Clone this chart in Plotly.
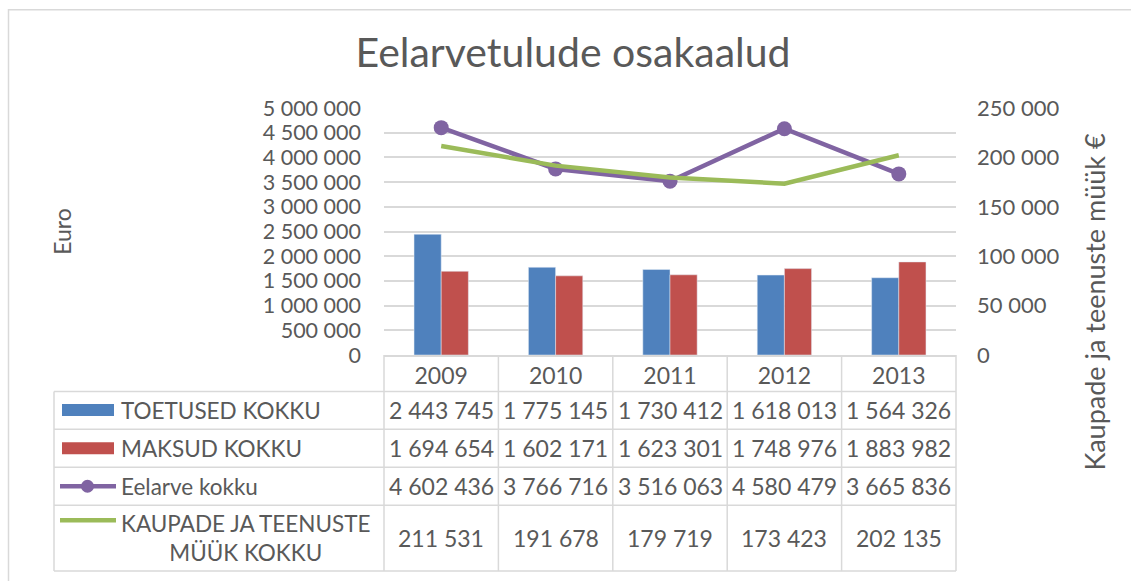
import plotly.graph_objects as go

years = ["2009", "2010", "2011", "2012", "2013"]
toetused = [2443745, 1775145, 1730412, 1618013, 1564326]
maksud = [1694654, 1602171, 1623301, 1748976, 1883982]
eelarve = [4602436, 3766716, 3516063, 4580479, 3665836]
kaupade = [211531, 191678, 179719, 173423, 202135]

series_names = ["TOETUSED KOKKU", "MAKSUD KOKKU", "Eelarve kokku", "KAUPADE JA TEENUSTE<br>MÜÜK KOKKU"]

W, H = 1131, 581
L, R, T, B = 384, 956, 108, 355.5
FONT = "Lato"
GREY = "#595959"
LINE = "#d9d9d9"
BLUE, RED, PURPLE, GREEN = "#4f81bd", "#c0504d", "#8064a2", "#9bbb59"


def px(x):
    return (x - L) / (R - L)


def py(y):
    return (B - y) / (B - T)


def fmt(v):
    return f"{v:,}".replace(",", " ")


fig = go.Figure()
fig.add_trace(go.Bar(x=years, y=toetused, name=series_names[0], marker_color=BLUE))
fig.add_trace(go.Bar(x=years, y=maksud, name=series_names[1], marker_color=RED))
fig.add_trace(go.Scatter(x=years, y=eelarve, name=series_names[2], mode="lines+markers",
                         line=dict(color=PURPLE, width=4.5), marker=dict(size=15, color=PURPLE)))
fig.add_trace(go.Scatter(x=years, y=kaupade, name=series_names[3], mode="lines", yaxis="y2",
                         line=dict(color=GREEN, width=4.5)))

shapes = []
# outer chart border
shapes.append(dict(type="rect", xref="paper", yref="paper", x0=px(8.5), x1=px(1140), y0=py(590), y1=py(9.5),
                   line=dict(color=LINE, width=1.5), layer="below"))
# table horizontal lines
for yy in [392, 430, 468, 506, 572]:
    shapes.append(dict(type="line", xref="paper", yref="paper", x0=px(54), x1=1, y0=py(yy), y1=py(yy),
                       line=dict(color=LINE, width=1.5)))
# table vertical lines
shapes.append(dict(type="line", xref="paper", yref="paper", x0=px(54), x1=px(54), y0=py(392), y1=py(572),
                   line=dict(color=LINE, width=1.5)))
for i in range(len(years) + 1):
    xx = i / len(years)
    shapes.append(dict(type="line", xref="paper", yref="paper", x0=xx, x1=xx, y0=0, y1=py(572),
                       line=dict(color=LINE, width=1.5)))

# legend keys
row_y = [411, 449, 487, 539]
shapes.append(dict(type="rect", xref="paper", yref="paper", x0=px(62), x1=px(114), y0=py(416.5), y1=py(404.5),
                   fillcolor=BLUE, line=dict(width=0)))
shapes.append(dict(type="rect", xref="paper", yref="paper", x0=px(62), x1=px(114), y0=py(455), y1=py(443),
                   fillcolor=RED, line=dict(width=0)))
shapes.append(dict(type="line", xref="paper", yref="paper", x0=px(60), x1=px(116), y0=py(487), y1=py(487),
                   line=dict(color=PURPLE, width=4.5)))
shapes.append(dict(type="circle", xref="paper", yref="paper", x0=px(81), x1=px(94), y0=py(493.5), y1=py(480.5),
                   fillcolor=PURPLE, line=dict(width=0)))
shapes.append(dict(type="line", xref="paper", yref="paper", x0=px(60), x1=px(116), y0=py(521), y1=py(521),
                   line=dict(color=GREEN, width=4.5)))

ann = []
series_vals = [toetused, maksud, eelarve, kaupade]
for r, vals in enumerate(series_vals):
    for i, v in enumerate(vals):
        ann.append(dict(x=i, xref="x", y=py(row_y[r]), yref="paper", text=fmt(v), showarrow=False,
                        xanchor="center", yanchor="middle", font=dict(family=FONT, size=23, color=GREY)))
for r in range(3):
    ann.append(dict(x=px(119), xref="paper", y=py(row_y[r]), yref="paper", text=series_names[r], showarrow=False,
                    xanchor="left", yanchor="middle", font=dict(family=FONT, size=22.5, color=GREY)))
ann.append(dict(x=px(119), xref="paper", y=py(539), yref="paper", text=series_names[3], showarrow=False,
                xanchor="left", yanchor="middle", align="center",
                font=dict(family=FONT, size=22.5, color=GREY)))
# axis titles
ann.append(dict(x=px(62), xref="paper", y=py(232), yref="paper", text="Euro", textangle=-90, showarrow=False,
                xanchor="center", yanchor="middle", font=dict(family=FONT, size=23, color=GREY)))
ann.append(dict(x=px(1095), xref="paper", y=py(302), yref="paper", text="Kaupade ja teenuste müük €",
                textangle=-90, showarrow=False, xanchor="center", yanchor="middle",
                font=dict(family=FONT, size=27, color=GREY)))

fig.update_layout(
    width=W, height=H,
    margin=dict(l=L, r=W - R, t=T, b=H - B, pad=0),
    paper_bgcolor="white", plot_bgcolor="white",
    separators=", ",
    showlegend=False,
    barmode="group", bargap=0.525, bargroupgap=0,
    title=dict(text="Eelarvetulude osakaalud", x=573 / W, xanchor="center", y=1 - 53 / H, yanchor="middle",
               font=dict(family=FONT, size=41, color=GREY)),
    xaxis=dict(type="category", showline=True, linecolor=LINE, linewidth=1.5, showgrid=False, ticks="",
               tickfont=dict(family=FONT, size=23, color=GREY), ticklabelstandoff=0),
    yaxis=dict(range=[0, 5000000], dtick=500000, tickformat=",d", showgrid=True, gridcolor=LINE, gridwidth=1.5,
               zeroline=False, showline=False, ticks="", ticklabelstandoff=22,
               tickfont=dict(family=FONT, size=21.5, color=GREY)),
    yaxis2=dict(range=[0, 250000], dtick=50000, tickformat=",d", overlaying="y", side="right", showgrid=False,
                zeroline=False, showline=False, ticks="", ticklabelstandoff=20,
                tickfont=dict(family=FONT, size=22, color=GREY)),
    shapes=shapes,
    annotations=ann,
    font=dict(family=FONT, color=GREY),
)

fig.write_html("out.html", config={"displayModeBar": False},
               post_script="document.body.style.margin='0';document.body.style.overflow='hidden';")
